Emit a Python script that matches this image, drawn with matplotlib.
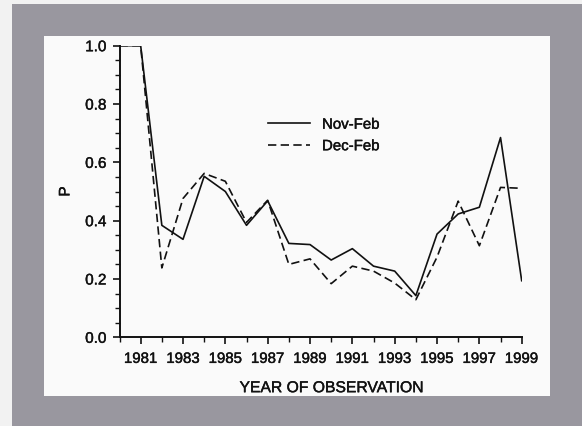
import matplotlib
matplotlib.use("Agg")
import matplotlib.pyplot as plt
import matplotlib.patheffects as pe
from matplotlib.ticker import MultipleLocator

years = list(range(1980, 2000))
nov_feb = [1.0, 1.0, 0.384, 0.336, 0.552, 0.50, 0.384, 0.468, 0.322, 0.318,
           0.265, 0.304, 0.244, 0.227, 0.143, 0.354, 0.423, 0.446, 0.685, 0.194]
dec_feb = [1.0, 1.0, 0.238, 0.476, 0.562, 0.535, 0.394, 0.470, 0.250, 0.269,
           0.184, 0.244, 0.227, 0.186, 0.129, 0.275, 0.467, 0.314, 0.514, 0.511]
xtick_labels = [str(y) for y in range(1981, 2000, 2)]
yticks = [0.0, 0.2, 0.4, 0.6, 0.8, 1.0]

plt.rcParams['font.family'] = ['Liberation Sans', 'DejaVu Sans']

W, H = 582, 427
fig = plt.figure(figsize=(W / 100, H / 100), dpi=100)
fig.patch.set_facecolor('#f2f2f2')

# gray mat
mat = fig.add_axes([12 / W, 0, (W - 12) / W, (H - 5) / H], zorder=-1)
mat.set_facecolor('#99979f')
mat.set_xticks([])
mat.set_yticks([])
for s in mat.spines.values():
    s.set_visible(False)

# white page panel
bg = fig.add_axes([44 / W, 1 - 397 / H, (550 - 44) / W, (397 - 37) / H], zorder=0)
bg.set_facecolor('#fafafa')
bg.set_xticks([])
bg.set_yticks([])
for s in bg.spines.values():
    s.set_visible(False)

ax = fig.add_axes([119.5 / W, 1 - 338.3 / H, 402.2 / W, 291.6 / H], zorder=1)
ax.set_facecolor('none')
ax.plot(years, nov_feb, color='#111111', lw=1.2, ls='-', label='Nov-Feb')
ax.plot(years, dec_feb, color='#111111', lw=1.2, ls=(0, (5, 2.6)), label='Dec-Feb')

ax.set_xlim(1980, 1999)
ax.set_ylim(0, 1.0)
ax.set_xticks(list(range(1981, 2000, 2)))
ax.set_xticklabels(xtick_labels)
ax.xaxis.set_minor_locator(MultipleLocator(1))
ax.set_yticks(yticks)
ax.set_yticklabels([f"{v:.1f}" for v in yticks])
ax.yaxis.set_minor_locator(MultipleLocator(0.05))

for s in ['top', 'right']:
    ax.spines[s].set_visible(False)
for s in ['left', 'bottom']:
    ax.spines[s].set_linewidth(1.4)
    ax.spines[s].set_color('#111111')

ax.tick_params(which='major', direction='out', length=5, width=1.2,
               labelsize=10.8, colors='#111111')
ax.tick_params(which='minor', direction='out', length=3.5, width=1.0, colors='#111111')
ax.tick_params(axis='x', which='major', pad=5.5)
ax.tick_params(axis='y', which='major', pad=4.5, labelsize=11)

ax.set_ylabel('P', fontsize=11)
ax.yaxis.set_label_coords(-0.117, 0.5)
ax.set_xlabel('YEAR OF OBSERVATION', fontsize=11.3)
ax.xaxis.set_label_coords(0.5276, -0.147)

leg = ax.legend(loc='upper left', bbox_to_anchor=((268 - 119.5) / 402.2, 0.753),
                frameon=False, fontsize=10.8, handlelength=2.8,
                handletextpad=0.8, labelspacing=0.5, borderpad=0,
                borderaxespad=0)

# slightly heavier text, like the printed original
thick = [pe.withStroke(linewidth=0.3, foreground='#111111')]
texts = (ax.get_xticklabels() + ax.get_yticklabels() + leg.get_texts()
         + [ax.xaxis.label, ax.yaxis.label])
for t in texts:
    t.set_color('#111111')
    t.set_path_effects(thick)

fig.savefig('out.png', dpi=100, facecolor=fig.get_facecolor())
